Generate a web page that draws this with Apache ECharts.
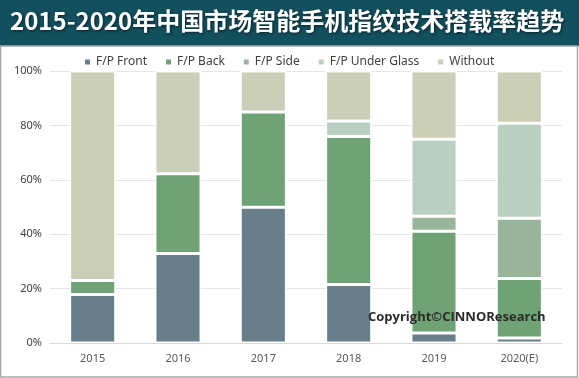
<!DOCTYPE html>
<html>
<head>
<meta charset="utf-8">
<script src="https://cdn.jsdelivr.net/npm/echarts@6/dist/echarts.min.js"></script>
<style>
    html, body { margin: 0; padding: 0; background: #fff; }
    #chart { width: 579px; height: 378px; }
</style>
</head>
<body>
<div id="chart"></div>
<script>
document.addEventListener('DOMContentLoaded', function() {

    // Data -----------------------------------------------------------
    const years = ['2015', '2016', '2017', '2018', '2019', '2020(E)'];
    const fpFront = [17.8, 32.9, 49.9, 21.5, 3.7, 1.8];
    const fpBack = [5.2, 29.3, 35.0, 54.4, 37.4, 21.9];
    const fpSide = [0, 0, 0, 0, 5.5, 22.2];
    const fpUnderGlass = [0, 0, 0, 5.7, 28.3, 34.9];
    const without = [77.0, 37.8, 15.1, 18.4, 25.1, 19.2];

    const seriesNames = ['F/P Front', 'F/P Back', 'F/P Side', 'F/P Under Glass', 'Without'];
    const seriesData = [fpFront, fpBack, fpSide, fpUnderGlass, without];
    const colors = ['#687f8a', '#6fa375', '#98b59b', '#b9cfbf', '#cbcfb8'];

    const font = '"Noto Sans", "DejaVu Sans", sans-serif';

    const chart = echarts.init(document.getElementById('chart'));

    chart.setOption({
        animation: false,
        color: colors,
        graphic: [
            {
                type: 'rect',
                shape: {x: 0, y: 0, width: 579, height: 46},
                style: {fill: '#12505e'},
                z: 0
            },
            {
                type: 'rect',
                shape: {x: 0.5, y: 46, width: 577, height: 331},
                style: {fill: 'none', stroke: '#a6a6a6', lineWidth: 1.5},
                z: 0
            },
            {
                type: 'text',
                left: 10,
                top: 9,
                style: {
                    text: '2015-2020年中国市场智能手机指纹技术搭载率趋势',
                    fill: '#ffffff',
                    font: 'bold 24px "Noto Sans CJK SC", sans-serif',
                    textShadowColor: 'rgba(0,0,0,0.6)',
                    textShadowBlur: 3,
                    textShadowOffsetX: 1,
                    textShadowOffsetY: 1
                },
                z: 10
            },
            {
                type: 'text',
                left: 368,
                top: 311,
                style: {
                    text: 'Copyright©CINNOResearch',
                    fill: '#2b2b2b',
                    font: 'bold 13px "Open Sans", "DejaVu Sans", sans-serif'
                },
                z: 10
            }
        ],
        legend: {
            top: 51,
            left: 78,
            itemWidth: 7,
            itemHeight: 7,
            itemGap: 17,
            icon: 'rect',
            textStyle: {fontSize: 12, color: '#404040', fontFamily: font}
        },
        grid: {
            top: 71,
            left: 50,
            right: 17,
            bottom: 35
        },
        xAxis: {
            type: 'category',
            data: years,
            axisTick: {show: false},
            axisLine: {lineStyle: {color: '#d9d9d9'}},
            axisLabel: {color: '#595959', fontSize: 11, margin: 10, fontFamily: font}
        },
        yAxis: {
            type: 'value',
            min: 0,
            max: 100,
            interval: 20,
            axisLabel: {formatter: '{value}%', color: '#404040', fontSize: 11, margin: 8, fontFamily: font},
            splitLine: {lineStyle: {color: '#e6e6e6'}}
        },
        series: seriesNames.map((name, i) => ({
            name: name,
            type: 'bar',
            stack: 'total',
            barWidth: '54%',
            data: seriesData[i],
            itemStyle: {borderColor: '#ffffff', borderWidth: 1.5}
        }))
    });
});
</script>
</body>
</html>
